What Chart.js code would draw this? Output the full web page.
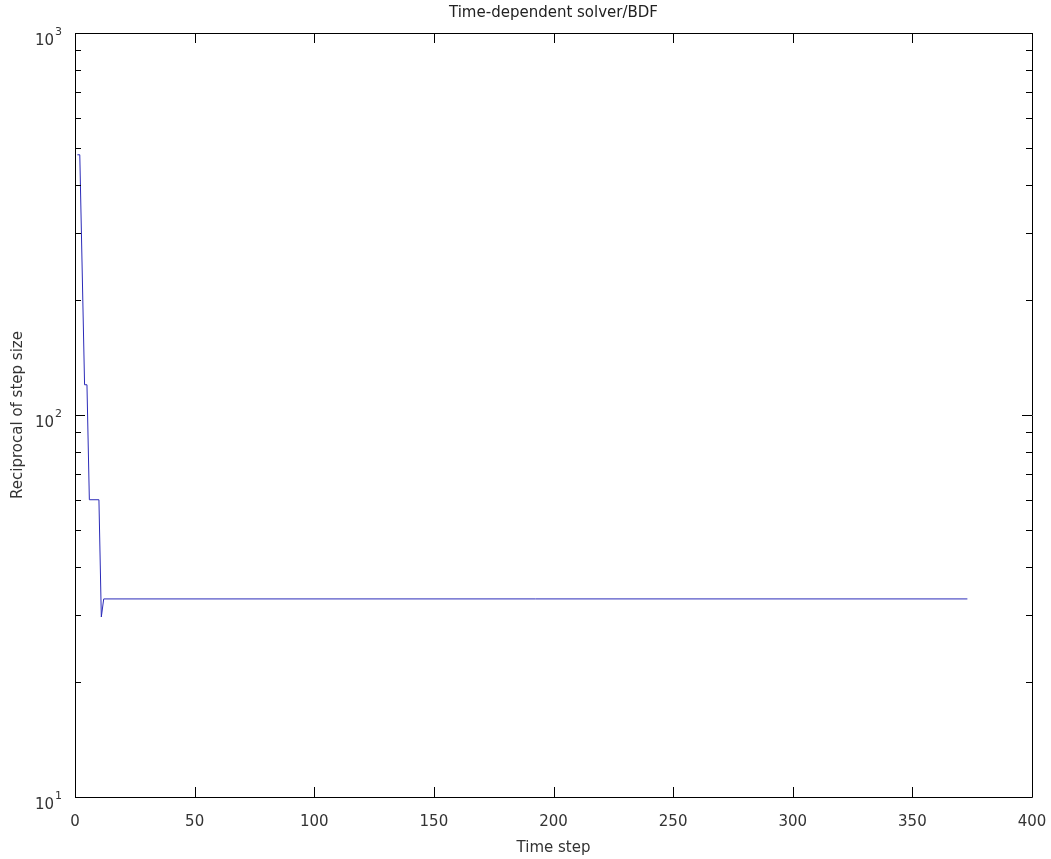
<!DOCTYPE html>
<html>
<head>
<meta charset="utf-8">
<script src="https://cdn.jsdelivr.net/npm/chart.js@4.4.1/dist/chart.umd.min.js"></script>
<style>
  html, body { margin: 0; padding: 0; background: #fff; }
  #wrap { width: 1051px; height: 859px; }
</style>
</head>
<body>
<div id="wrap"><canvas id="solver" width="1051" height="859"></canvas></div>
<script>
// time step index and reciprocal of step size (1/h)
var steps = [1, 2, 4, 5, 6, 10, 11, 12, 373];
var recip = [480, 480, 120, 120, 60, 60, 29.6, 33, 33];
var xTicks = [0, 50, 100, 150, 200, 250, 300, 350, 400];
var yDecades = [10, 100, 1000];

var points = steps.map(function (s, i) { return { x: s, y: recip[i] }; });
var FONT = 'DejaVu Sans';
var TXT = '#333';

// box round the plot, inward ticks on all four sides, 10^n labels
var framePlugin = {
  id: 'frame',
  afterDraw: function (chart) {
    var ctx = chart.ctx;
    var a = chart.chartArea;
    var xs = chart.scales.x, ys = chart.scales.y;
    ctx.save();
    ctx.strokeStyle = '#000';
    ctx.lineWidth = 1;
    ctx.beginPath();
    ctx.rect(Math.round(a.left) + 0.5, Math.round(a.top) + 0.5,
             Math.round(a.right - a.left), Math.round(a.bottom - a.top));
    ctx.stroke();

    ctx.beginPath();
    xTicks.forEach(function (v) {
      var px = Math.round(xs.getPixelForValue(v)) + 0.5;
      ctx.moveTo(px, a.bottom); ctx.lineTo(px, a.bottom - 10);
      ctx.moveTo(px, a.top); ctx.lineTo(px, a.top + 10);
    });
    for (var i = 0; i < yDecades.length; i++) {
      var d = yDecades[i];
      for (var m = 1; m <= 9; m++) {
        var v = d * m;
        if (v > ys.max) break;
        var py = Math.round(ys.getPixelForValue(v)) + 0.5;
        var len = m === 1 ? 10 : 6;
        ctx.moveTo(a.left, py); ctx.lineTo(a.left + len, py);
        ctx.moveTo(a.right, py); ctx.lineTo(a.right - len, py);
      }
    }
    ctx.stroke();

    ctx.fillStyle = TXT;
    ctx.textBaseline = 'middle';
    yDecades.forEach(function (d) {
      var py = ys.getPixelForValue(d);
      ctx.font = '15px "' + FONT + '"';
      ctx.textAlign = 'right';
      ctx.fillText('10', a.left - 21, py + 8);
      ctx.font = '11px "' + FONT + '"';
      ctx.textAlign = 'left';
      ctx.fillText(String(Math.round(Math.log10(d))), a.left - 20, py - 1);
    });
    ctx.restore();
  }
};

new Chart(document.getElementById('solver'), {
  type: 'line',
  data: {
    datasets: [{
      label: 'Reciprocal of step size',
      data: points,
      borderColor: '#2a2ab8',
      borderWidth: 1,
      pointRadius: 0,
      tension: 0,
      fill: false
    }]
  },
  options: {
    responsive: false,
    animation: false,
    layout: { padding: { left: 0, right: 19, top: 0, bottom: 0 } },
    plugins: {
      legend: { display: false },
      tooltip: { enabled: false },
      title: {
        display: true,
        text: 'Time-dependent solver/BDF',
        fullSize: false,
        color: '#222',
        font: { family: FONT, size: 15, weight: 'normal' },
        padding: { top: 4, bottom: 11 }
      }
    },
    scales: {
      x: {
        type: 'linear',
        min: 0,
        max: 400,
        grid: { display: false, drawTicks: false },
        border: { display: false },
        ticks: {
          stepSize: 50,
          color: TXT,
          padding: 16,
          maxRotation: 0,
          font: { family: FONT, size: 15 }
        },
        title: {
          display: true,
          text: 'Time step',
          color: TXT,
          font: { family: FONT, size: 15 },
          padding: { top: 0, bottom: 2 }
        },
        afterFit: function (s) {
          s.height = 62;
          s.paddingLeft = 0;
          s.paddingRight = 0;
        }
      },
      y: {
        type: 'logarithmic',
        min: 10,
        max: 1000,
        grid: { display: false, drawTicks: false },
        border: { display: false },
        ticks: { display: false },
        title: {
          display: true,
          text: 'Reciprocal of step size',
          color: TXT,
          font: { family: FONT, size: 15 },
          padding: { top: 9, bottom: 0 }
        },
        afterFit: function (s) { s.width = 75; }
      }
    }
  },
  plugins: [framePlugin]
});
</script>
</body>
</html>
